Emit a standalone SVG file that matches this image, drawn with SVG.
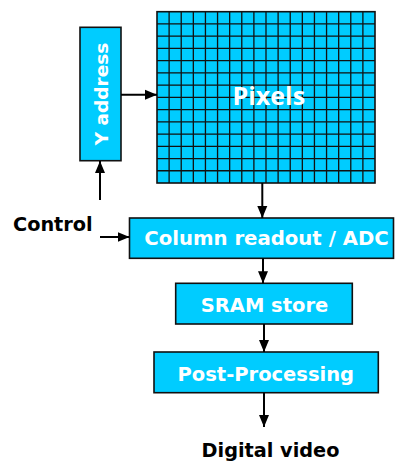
<svg xmlns="http://www.w3.org/2000/svg" width="396" height="461" viewBox="0 0 396 461">
<defs>
<style>
.box{fill:#00CCFF;stroke:#111;stroke-width:1.6}
.lbl{font-family:"DejaVu Sans",Verdana,sans-serif;font-weight:bold;font-size:19.5px;fill:#fff;text-anchor:middle}
.blk{font-family:"DejaVu Sans",Verdana,sans-serif;font-weight:bold;font-size:19.3px;fill:#000}
.conn{stroke:#000;stroke-width:2;fill:none}
.grid{stroke:#111;stroke-width:1.3;fill:none}
</style>
<marker id="ah" markerUnits="userSpaceOnUse" markerWidth="12" markerHeight="12" viewBox="0 0 12 12" refX="12" refY="6" orient="auto">
<path d="M0,1 L12,6 L0,11 Z" fill="#000"/>
</marker>
</defs>
<rect width="396" height="461" fill="#fff"/>
<g id="pixels">
<rect class="box" x="157" y="11.7" width="218" height="171.3"/>
<path class="grid" d="M169.11,11.7V183M181.22,11.7V183M193.33,11.7V183M205.44,11.7V183M217.56,11.7V183M229.67,11.7V183M241.78,11.7V183M253.89,11.7V183M266,11.7V183M278.11,11.7V183M290.22,11.7V183M302.33,11.7V183M314.44,11.7V183M326.56,11.7V183M338.67,11.7V183M350.78,11.7V183M362.89,11.7V183M157,23.94H375M157,36.17H375M157,48.41H375M157,60.64H375M157,72.88H375M157,85.12H375M157,97.35H375M157,109.59H375M157,121.82H375M157,134.06H375M157,146.3H375M157,158.53H375M157,170.77H375"/>
<text x="268.8" y="105" style="font-family:'Open Sans',sans-serif;font-weight:bold;font-size:25px;fill:#fff;text-anchor:middle">Pixels</text>
</g>
<g id="yaddress">
<rect class="box" x="80" y="27.3" width="41" height="133.4"/>
<text class="lbl" transform="translate(108.3,94) rotate(-90)" style="font-size:18.5px">Y address</text>
</g>
<g id="control">
<text class="blk" x="13" y="231">Control</text>
</g>
<g id="column">
<rect class="box" x="129.5" y="218" width="264" height="40.3"/>
<text class="lbl" x="266.5" y="245" style="font-size:19.7px">Column readout / ADC</text>
</g>
<g id="sram">
<rect class="box" x="175.7" y="283.3" width="176.6" height="40.7"/>
<text class="lbl" x="264.5" y="311.7">SRAM store</text>
</g>
<g id="post">
<rect class="box" x="154" y="352" width="224.3" height="40.7"/>
<text class="lbl" x="265.8" y="381">Post-Processing</text>
</g>
<g id="output">
<text class="blk" x="270.5" y="456.7" text-anchor="middle">Digital video</text>
</g>
<g id="connectors">
<line class="conn" x1="121" y1="94.7" x2="157" y2="94.7" marker-end="url(#ah)"/>
<line class="conn" x1="100" y1="200" x2="100" y2="161" marker-end="url(#ah)"/>
<line class="conn" x1="100" y1="237" x2="129.5" y2="237" marker-end="url(#ah)"/>
<line class="conn" x1="262.3" y1="183" x2="262.3" y2="218" marker-end="url(#ah)"/>
<line class="conn" x1="263" y1="258.3" x2="263" y2="283.3" marker-end="url(#ah)"/>
<line class="conn" x1="264" y1="324" x2="264" y2="352" marker-end="url(#ah)"/>
<line class="conn" x1="264" y1="392.7" x2="264" y2="427" marker-end="url(#ah)"/>
</g>
</svg>
